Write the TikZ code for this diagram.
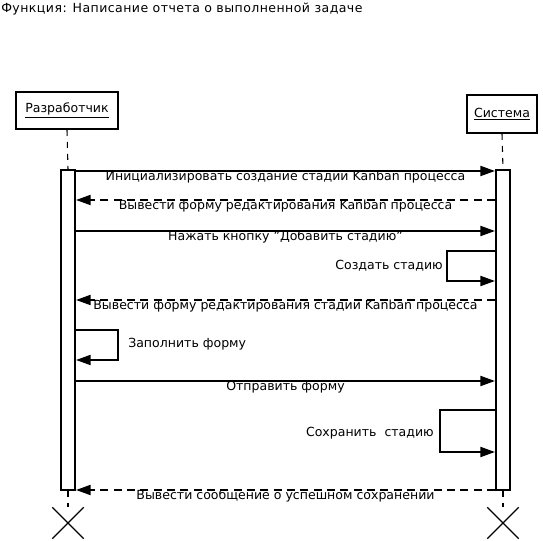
\documentclass[tikz,border=0pt]{standalone}
\usepackage{fontspec}
\setmainfont{DejaVu Sans}
\usetikzlibrary{arrows.meta, shapes.misc}

\begin{document}
\begin{tikzpicture}[x=0.75pt, y=-0.75pt,
        txt/.style={font=\fontsize{9.4}{11}\selectfont, inner sep=0pt},
        actor/.style={rectangle, draw, line width=1.5pt, txt, fill=white},
        bar/.style={rectangle, draw, line width=1.5pt, fill=white, minimum width=10.5pt, minimum height=240pt, inner sep=0pt},
        lifeline/.style={draw, line width=0.8pt, dash pattern=on 4.5pt off 4.5pt},
        msg/.style={line width=1.5pt, -{Triangle[length=11pt, width=7.5pt]}},
        reply/.style={msg, dash pattern=on 6pt off 4pt},
        mlabel/.style={txt, midway, yshift=-4.5pt},
        kill/.style={cross out, draw, line width=1pt, minimum size=22.5pt, inner sep=0pt}
    ]
    \useasboundingbox (0,0) rectangle (543,541);

    % Title
    \node[txt, anchor=west, font=\fontsize{9.4}{11}\selectfont\addfontfeature{LetterSpace=3.5}] (title) at (1,9) {Функция: Написание отчета о выполненной задаче};

    % Actors
    \node[actor, minimum width=76.5pt, minimum height=27.75pt] (dev) at (67,110.5) {\underline{Разработчик}};
    \node[actor, minimum width=52.5pt, minimum height=28.5pt] (sys) at (502,114) {\underline{Система}};

    % Activation bars
    \node[bar] (devbar) at (68,330) {};
    \node[bar] (sysbar) at (503,330) {};

    % Destruction marks
    \node[kill] (devx) at (68,523) {};
    \node[kill] (sysx) at (503,523) {};

    % Lifelines
    \draw[lifeline] (dev.south) -- (devbar.north);
    \draw[lifeline] (sys.south) -- (sysbar.north);
    \draw[lifeline] (devbar.south) -- (devx.north);
    \draw[lifeline] (sysbar.south) -- (sysx.north);

    % Message rows
    \coordinate (m1) at (0,171);
    \coordinate (m2) at (0,200);
    \coordinate (m3) at (0,231);
    \coordinate (m4) at (0,251);
    \coordinate (m4e) at (0,281);
    \coordinate (m5) at (0,300);
    \coordinate (m6) at (0,330);
    \coordinate (m6e) at (0,360);
    \coordinate (m7) at (0,381);
    \coordinate (m8) at (0,410);
    \coordinate (m8e) at (0,452);
    \coordinate (m9) at (0,490);

    % Messages
    \draw[msg] (devbar.east |- m1) -- node[mlabel] {Инициализировать создание стадии Kanban процесса} (sysbar.west |- m1);
    \draw[reply] (sysbar.west |- m2) -- node[mlabel] {Вывести форму редактирования Kanban процесса} (devbar.east |- m2);
    \draw[msg] (devbar.east |- m3) -- node[mlabel] {Нажать кнопку "Добавить стадию"} (sysbar.west |- m3);

    % Self call: create stage
    \draw[msg] (sysbar.west |- m4) -- (447,251) -- (447,281) -- (sysbar.west |- m4e);
    \node[txt, anchor=east] (create) at (443,266) {Создать стадию};

    \draw[reply] (sysbar.west |- m5) -- node[mlabel] {Вывести форму редактирования стадии Kanban процесса} (devbar.east |- m5);

    % Self call: fill form
    \draw[msg] (devbar.east |- m6) -- (118,330) -- (118,360) -- (devbar.east |- m6e);
    \node[txt, anchor=west] (fill) at (128,344) {Заполнить форму};

    \draw[msg] (devbar.east |- m7) -- node[mlabel] {Отправить форму} (sysbar.west |- m7);

    % Self call: save stage
    \draw[msg] (sysbar.west |- m8) -- (440,410) -- (440,452) -- (sysbar.west |- m8e);
    \node[txt, anchor=east] (save) at (434,433) {Сохранить\ \ стадию};

    \draw[reply] (sysbar.west |- m9) -- node[mlabel] {Вывести сообщение о успешном сохранении} (devbar.east |- m9);

\end{tikzpicture}
\end{document}
